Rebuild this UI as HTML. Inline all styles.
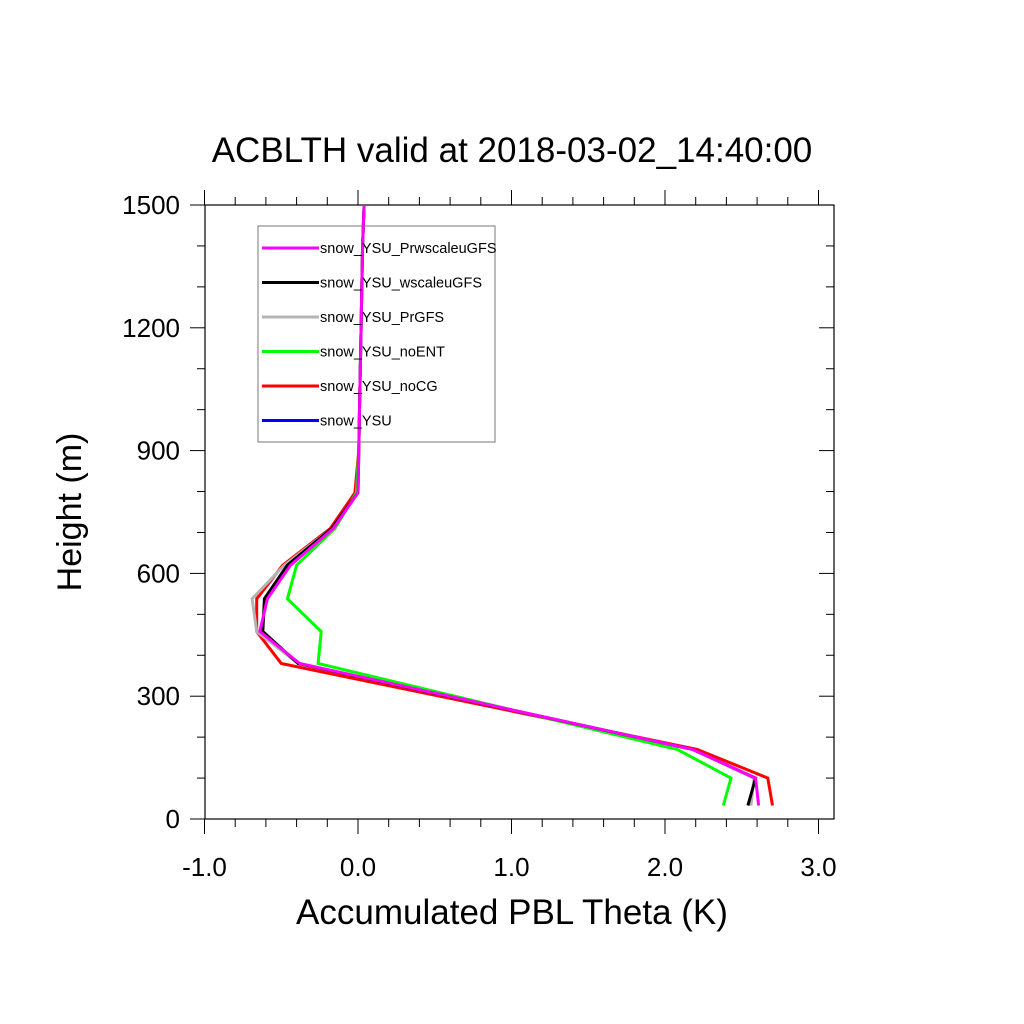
<!DOCTYPE html>
<html><head><meta charset="utf-8"><style>
html,body{margin:0;padding:0;background:#fff;}
svg{display:block;font-family:"Liberation Sans",sans-serif;}
</style></head><body>
<svg id="chart" width="1024" height="1024" xmlns="http://www.w3.org/2000/svg">
<text x="512" y="162" font-size="35" text-anchor="middle">ACBLTH valid at 2018-03-02_14:40:00</text>
<g id="axes"></g>
<g id="series"></g>
<g id="legend"></g>
<text x="512" y="924" font-size="35" text-anchor="middle">Accumulated PBL Theta (K)</text>
<text transform="translate(81,512) rotate(-90)" font-size="34" text-anchor="middle">Height (m)</text>
</svg>
<script>
const heights=[33,100,170,380,458,538,620,710,797,900,1000,1100,1200,1300,1400,1500];
const upper=[0.005,0.01,0.015,0.02,0.025,0.03,0.04];
const snowYSU=[2.55,2.58,2.18,-0.39,-0.63,-0.6,-0.46,-0.17,0];
const snowYSUnoCG=[2.70,2.67,2.21,-0.50,-0.66,-0.66,-0.49,-0.18,-0.02];
const snowYSUnoENT=[2.38,2.43,2.08,-0.26,-0.24,-0.46,-0.40,-0.15,-0.01];
const snowYSUPrGFS=[2.56,2.58,2.18,-0.39,-0.66,-0.69,-0.48,-0.17,0];
const snowYSUwscaleuGFS=[2.54,2.59,2.18,-0.39,-0.62,-0.61,-0.46,-0.17,0];
const snowYSUPrwscaleuGFS=[2.61,2.59,2.18,-0.38,-0.64,-0.59,-0.44,-0.16,0];
const xTicks=[-1,0,1,2,3];
const xTickLabels=["-1.0","0.0","1.0","2.0","3.0"];
const yTicks=[0,300,600,900,1200,1500];
const seriesNames=["snow_YSU_PrwscaleuGFS","snow_YSU_wscaleuGFS","snow_YSU_PrGFS","snow_YSU_noENT","snow_YSU_noCG","snow_YSU"];
const seriesColors=["#ff00ff","#000000","#b4b4b4","#00ff00","#ff0000","#0000ff"];

const L=205,R=834,T=205,B=819;
const xs=v=>358+(v)*153.5;
const ys=v=>B-(v)*(B-T)/1500;
const NS="http://www.w3.org/2000/svg";
function mk(tag,attrs,parent){const e=document.createElementNS(NS,tag);for(const k in attrs)e.setAttribute(k,attrs[k]);parent.appendChild(e);return e;}
const axes=document.getElementById('axes');
const fr=mk('rect',{x:L,y:T,width:R-L,height:B-T,fill:'none',stroke:'#000','stroke-width':1.2},axes);


for(let v=-1;v<=3.1001;v+=0.2){
  const x=xs(v);const maj=Math.abs(v-Math.round(v))<1e-6;const len=maj?15:8;
  const t1=mk('line',{x1:x,x2:x,y1:B,y2:B+len,stroke:'#000','stroke-width':1},axes);
  
  
  const t2=mk('line',{x1:x,x2:x,y1:T,y2:T-len,stroke:'#000','stroke-width':1},axes);
  
  
}
for(let v=0;v<=1500;v+=100){
  const y=ys(v);const maj=v%300===0;const len=maj?15:8;
  const t1=mk('line',{x1:L,x2:L-len,y1:y,y2:y,stroke:'#000','stroke-width':1},axes);
  
  
  const t2=mk('line',{x1:R,x2:R-len,y1:y,y2:y,stroke:'#000','stroke-width':1},axes);
  
  
}
xTicks.forEach((v,i)=>{
  const t=mk('text',{x:xs(v),y:876,'font-size':26,'text-anchor':'middle'},axes);t.textContent=xTickLabels[i];
  
  
});
yTicks.forEach(v=>{
  const t=mk('text',{x:180,y:ys(v)+9,'font-size':26,'text-anchor':'end'},axes);t.textContent=String(v);
  
  
});
const data=[snowYSUPrwscaleuGFS,snowYSUwscaleuGFS,snowYSUPrGFS,snowYSUnoENT,snowYSUnoCG,snowYSU];
const lg=document.getElementById('legend');
const box=mk('rect',{x:258,y:226,width:237,height:216,fill:'none',stroke:'#777','stroke-width':1},lg);


seriesNames.forEach((n,i)=>{
  const y=248+i*34.5;
  const l=mk('line',{x1:262,x2:319,y1:y,y2:y,stroke:seriesColors[i],'stroke-width':3},lg);
  
  
  const t=mk('text',{x:320,y:y+5,'font-size':14.5},lg);t.textContent=n;
  
  
});
const g=document.getElementById('series');
const order=[5,4,3,2,1,0];
order.forEach(i=>{
  const vals=data[i].concat(upper);
  const pts=vals.map((v,j)=>xs(v).toFixed(1)+','+ys(heights[j]).toFixed(1)).join(' ');
  const p=mk('polyline',{points:pts,fill:'none',stroke:seriesColors[i],'stroke-width':i===5?1.5:3,'stroke-linejoin':'miter'},g);
  
  
});
</script>
</body></html>
